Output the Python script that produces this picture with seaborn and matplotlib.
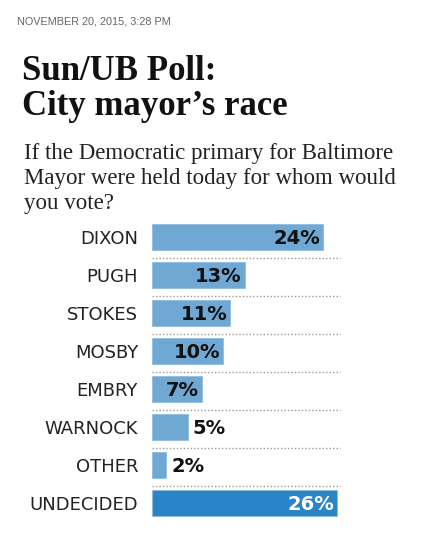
"""
Sun/UB poll: Baltimore Democratic mayoral primary, horizontal bar chart.
"""

import matplotlib
matplotlib.use("Agg")
import matplotlib.pyplot as plt
import seaborn as sns

candidates = ["DIXON", "PUGH", "STOKES", "MOSBY", "EMBRY", "WARNOCK", "OTHER", "UNDECIDED"]
shares = [24, 13, 11, 10, 7, 5, 2, 26]
value_labels = ["24%", "13%", "11%", "10%", "7%", "5%", "2%", "26%"]

LIGHT = "#6ea8d3"
DARK = "#2a84c7"

sns.set_theme(style="white")
plt.rcParams["font.family"] = ["DejaVu Sans"]

SERIF = ["Liberation Serif", "DejaVu Serif"]


def main():
    fig = plt.figure(figsize=(4.22, 5.37), dpi=100)
    W, H = 422, 537
    # axes placed in pixel terms of the reference
    left, right, top, bottom = 152, 340, 218, 522
    ax = fig.add_axes([left / W, 1 - bottom / H, (right - left) / W, (bottom - top) / H])

    colors = [DARK if c == "UNDECIDED" else LIGHT for c in candidates]
    sns.barplot(x=shares, y=candidates, hue=candidates, palette=colors,
                orient="h", width=0.71, legend=False, ax=ax,
                edgecolor="#8fbde0", linewidth=0.6, saturation=1)

    xmax = 188 / 7.13
    ax.set_xlim(0, xmax)
    ax.set_ylim(len(candidates) - 0.5, -0.5)

    # dotted separators between rows
    for i in range(len(candidates) - 1):
        ax.hlines(i + 0.55, 0, xmax, colors="#999999", linestyles=(0, (1, 1.5)),
                  linewidth=1.0, clip_on=False)

    for i, (v, lab) in enumerate(zip(shares, value_labels)):
        if v >= 7:
            col = "white" if candidates[i] == "UNDECIDED" else "#111111"
            ax.text(v - 0.4, i + 0.03, lab, ha="right", va="center",
                    fontsize=14, fontweight="bold", color=col)
        else:
            ax.text(v + 0.7, i + 0.03, lab, ha="left", va="center",
                    fontsize=14, fontweight="bold", color="#111111")

    ax.set_xticks([])
    ax.set_yticks(range(len(candidates)))
    ax.set_yticklabels(candidates, fontsize=13, color="#222222")
    ax.tick_params(axis="y", length=0, pad=10)
    ax.set_xlabel("")
    ax.set_ylabel("")
    sns.despine(ax=ax, left=True, bottom=True)

    fig.text(17 / W, 1 - 24 / H, "NOVEMBER 20, 2015, 3:28 PM", fontsize=7.8,
             color="#666666", family=["Liberation Sans", "DejaVu Sans"])
    fig.text(22 / W, 1 - 80 / H, "Sun/UB Poll:", fontsize=25, fontweight="bold",
             color="#111111", family=SERIF)
    fig.text(22 / W, 1 - 115 / H, "City mayor\u2019s race", fontsize=25, fontweight="bold",
             color="#111111", family=SERIF)
    subtitle = ["If the Democratic primary for Baltimore",
                "Mayor were held today for whom would",
                "you vote?"]
    for k, line in enumerate(subtitle):
        fig.text(24 / W, 1 - (159 + 25 * k) / H, line, fontsize=16.5,
                 color="#222222", family=SERIF)

    fig.savefig("out.png", dpi=100, facecolor="white")


if __name__ == "__main__":
    main()
